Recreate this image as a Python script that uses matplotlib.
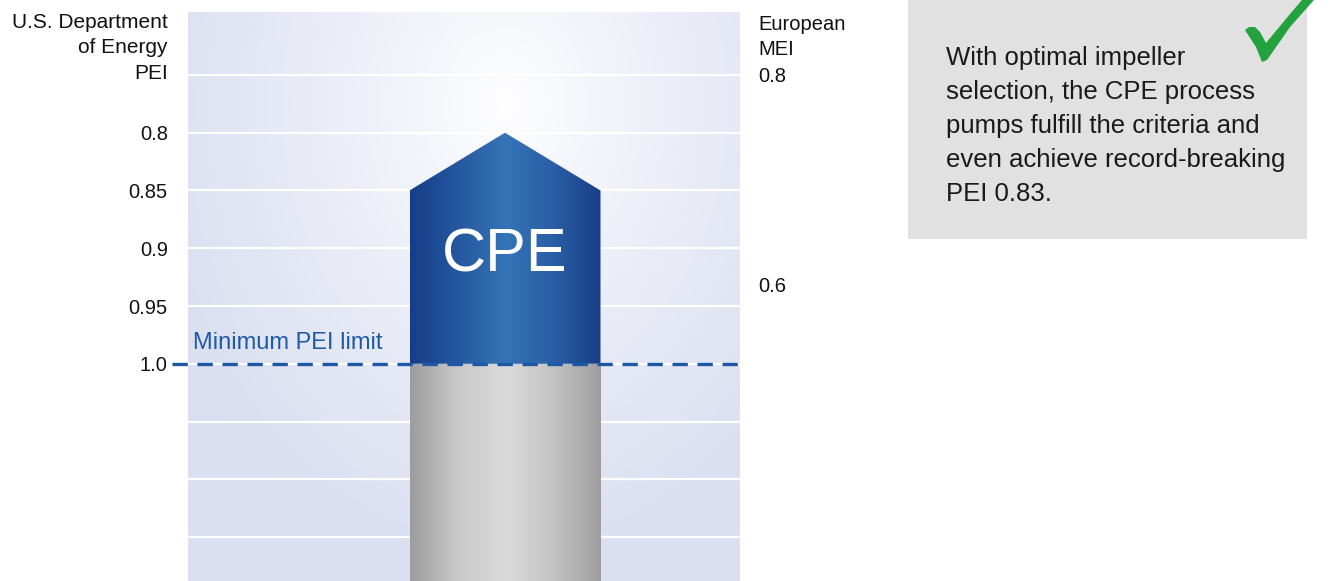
import numpy as np
import matplotlib
matplotlib.use("Agg")
import matplotlib.pyplot as plt
from matplotlib.patches import Polygon, Rectangle
from matplotlib.colors import LinearSegmentedColormap
import matplotlib.transforms as mtransforms

plt.rcParams['font.family'] = ['Liberation Sans', 'DejaVu Sans']

# ---------------- data ----------------
category = "CPE"
pei_limit = 1.0          # minimum PEI limit (bar colour change)
pei_shoulder = 0.85      # top corners of the blue bar
pei_peak = 0.80          # tip of the blue arrow
pei_grid = [0.75, 0.80, 0.85, 0.90, 0.95, 1.00, 1.05, 1.10, 1.15]
pei_ticks = [0.80, 0.85, 0.90, 0.95, 1.00]
pei_ticklabels = ["0.8", "0.85", "0.9", "0.95", "1.0"]
mei_ticks = [0.8, 0.6]
mei_ticklabels = ["0.8", "0.6"]
pei_range = (1.188, 0.6955)   # bottom, top (inverted axis)
left_title = "U.S. Department\nof Energy\nPEI"
right_title = "European\nMEI"
limit_label = "Minimum PEI limit"
note = ("With optimal impeller\nselection, the CPE process\npumps fulfill the criteria and\n"
        "even achieve record-breaking\nPEI 0.83.")

# MEI -> PEI position mapping (0.8 MEI aligned with 0.75 PEI grid, 0.6 lower)
def mei_to_pei(m):
    return 0.75 + (0.8 - np.asarray(m)) * 0.905

def pei_to_mei(p):
    return 0.8 - (np.asarray(p) - 0.75) / 0.905

W, H = 1332, 581
fig = plt.figure(figsize=(W / 100, H / 100), dpi=100)
fig.patch.set_facecolor("white")

ax_l, ax_r, ax_top = 188, 740, 12
ax = fig.add_axes([ax_l / W, 0, (ax_r - ax_l) / W, (H - ax_top) / H])
ax.set_xlim(-0.5, 0.5)
ax.set_ylim(*pei_range)
for s in ax.spines.values():
    s.set_visible(False)
ax.set_xticks([])

# radial gradient background
nx, ny = 400, 300
xx, yy = np.meshgrid(np.linspace(0, 1, nx), np.linspace(1, 0, ny))
cx, cy = (505 - ax_l) / (ax_r - ax_l), 1 - (105 - ax_top) / (H - ax_top)
r = np.sqrt(((xx - cx) / 0.64) ** 2 + ((yy - cy) / 0.8) ** 2)
t = np.clip(r, 0, 1) ** 0.85
edge = np.array([219, 224, 241]) / 255
img = (1 - t)[..., None] * np.array([1, 1, 1]) + t[..., None] * edge
ax.imshow(img, extent=[0, 1, 0, 1], transform=ax.transAxes, aspect="auto", zorder=0)

# grid lines
for g in pei_grid:
    ax.axhline(g, color="white", lw=1.6, zorder=1)

# bar geometry (width in data units along x)
bw = 0.5 * (600 - 409) / (ax_r - ax_l)
x0 = -0.5 + (505 - ax_l) / (ax_r - ax_l)   # bar centre
bl, br = x0 - bw, x0 + bw

# gray lower part with horizontal gradient
gray_cmap = LinearSegmentedColormap.from_list(
    "g", ["#9d9d9d", "#c9c9c9", "#dadada", "#c4c4c4", "#9e9e9e"])
grad = np.linspace(0, 1, 256)[None, :]
gray_im = ax.imshow(grad, cmap=gray_cmap, extent=[bl, br, pei_range[0], pei_limit],
                    aspect="auto", zorder=2)
gray_clip = Rectangle((bl, pei_limit), br - bl, pei_range[0] - pei_limit,
                      transform=ax.transData, facecolor="none", edgecolor="none")
ax.add_patch(gray_clip)
gray_im.set_clip_path(gray_clip)

# blue upper arrow part
blue_cmap = LinearSegmentedColormap.from_list(
    "b", ["#173d88", "#2557a0", "#3574b6", "#2a5ea6", "#183f88"])
blue_im = ax.imshow(grad, cmap=blue_cmap, extent=[bl, br, pei_limit, pei_peak],
                    aspect="auto", zorder=2)
arrow = Polygon([(bl, pei_limit), (bl, pei_shoulder), (x0, pei_peak),
                 (br, pei_shoulder), (br, pei_limit)], closed=True,
                transform=ax.transData, facecolor="none", edgecolor="none")
ax.add_patch(arrow)
blue_im.set_clip_path(arrow)
ax.set_ylim(*pei_range)
ax.set_xlim(-0.5, 0.5)

ax.text(x0, 0.907, category, color="white",
        fontsize=44, ha="center", va="center", zorder=4)

# minimum limit dashed line
trans = mtransforms.blended_transform_factory(ax.transAxes, ax.transData)
ax.plot([-(ax_l - 172) / (ax_r - ax_l), 1], [pei_limit, pei_limit], transform=trans,
        color="#1d58a4", lw=2.4, linestyle=(0, (4.6, 2.9)), clip_on=False, zorder=3)
ax.text(0.009, pei_limit - 0.0085, limit_label, transform=trans, color="#1f5aa6",
        fontsize=17, ha="left", va="bottom", zorder=4)

# left axis ticks
ax.set_yticks(pei_ticks)
ax.set_yticklabels(pei_ticklabels)
ax.tick_params(axis="y", length=0, pad=14.5, labelsize=14.5, labelcolor="#111111")
fig.text(168 / W, 1 - 13 / H, left_title, ha="right", va="top", fontsize=15,
         color="#111111", linespacing=1.42)

# right axis (European MEI)
sec = ax.secondary_yaxis("right", functions=(pei_to_mei, mei_to_pei))
sec.set_yticks(mei_ticks)
sec.set_yticklabels(mei_ticklabels)
sec.tick_params(length=0, pad=13, labelsize=14.5, labelcolor="#111111")
for s in sec.spines.values():
    s.set_visible(False)
fig.text(758 / W, 1 - 15 / H, right_title, ha="left", va="top", fontsize=14.5,
         color="#111111", linespacing=1.42)

# note box
fig.patches.append(Rectangle((908 / W, 1 - 239 / H), (1307 - 908) / W, 239 / H,
                             transform=fig.transFigure, facecolor="#e1e1e1",
                             edgecolor="none", zorder=0))
fig.text(946 / W, 1 - 46 / H, note, ha="left", va="top", fontsize=18.5,
         color="#1a1a1a", linespacing=1.53)

# check mark icon (pixel coordinates of the figure)
check_px = [(1245, 30), (1249, 27), (1255, 27), (1260, 32), (1266, 43), (1290, 14),
            (1302, 0), (1314, 0), (1290, 27), (1267, 60), (1262, 62), (1256, 47)]
check = Polygon([(x / W, 1 - y / H) for x, y in check_px], closed=True,
                transform=fig.transFigure, facecolor="#23a23f", edgecolor="none",
                zorder=5)
fig.patches.append(check)

fig.savefig("out.png", dpi=100)
